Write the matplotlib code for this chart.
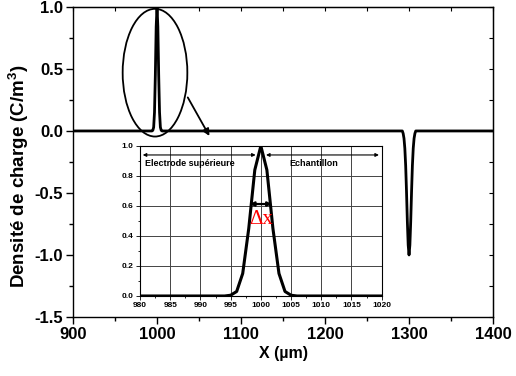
import numpy as np
import matplotlib
matplotlib.use('Agg')
import matplotlib.pyplot as plt
from matplotlib.patches import Ellipse
from matplotlib.ticker import MultipleLocator

plt.rcParams['font.family'] = ['Liberation Sans', 'DejaVu Sans']
plt.rcParams['mathtext.fontset'] = 'custom'
plt.rcParams['mathtext.bf'] = 'Liberation Sans:bold'
plt.rcParams['mathtext.rm'] = 'Liberation Sans:bold'

# charge density profile
x_peak = [994, 995, 996, 997, 998, 999, 1000, 1001, 1002, 1003, 1004, 1005, 1006]
y_peak = [0.0, 0.005, 0.03, 0.15, 0.45, 0.84, 1.0, 0.84, 0.45, 0.15, 0.03, 0.005, 0.0]
x_dip = [1292, 1293, 1294, 1295, 1296, 1297, 1298, 1299, 1300,
         1301, 1302, 1303, 1304, 1305, 1306, 1307, 1308]
y_dip = [0.0, -0.02, -0.06, -0.14, -0.28, -0.49, -0.73, -0.92, -1.0,
         -0.92, -0.73, -0.49, -0.28, -0.14, -0.06, -0.02, 0.0]
x_main = [900] + x_peak + x_dip + [1400]
y_main = [0.0] + y_peak + y_dip + [0.0]

# zoomed profile for the inset
x_zoom = [980, 990, 994] + x_peak[1:-1] + [1006, 1010, 1020]
y_zoom = [0.0, 0.0, 0.0] + y_peak[1:-1] + [0.0, 0.0, 0.0]

fig = plt.figure(figsize=(5.16, 3.76), dpi=100)
ax = fig.add_axes([0.1415, 0.157, 0.814, 0.8245])
ax.plot(x_main, y_main, color='black', lw=2.0, solid_joinstyle='round')
ax.set_xlim(900, 1400)
ax.set_ylim(-1.5, 1.0)
ax.xaxis.set_major_locator(MultipleLocator(100))
ax.xaxis.set_minor_locator(MultipleLocator(50))
ax.yaxis.set_major_locator(MultipleLocator(0.5))
ax.yaxis.set_minor_locator(MultipleLocator(0.25))
ax.yaxis.set_major_formatter(matplotlib.ticker.FormatStrFormatter('%.1f'))
ax.tick_params(which='both', direction='out', top=False, right=False,
               width=1.0, labelsize=12, pad=2)
ax.tick_params(which='major', length=5)
ax.tick_params(which='minor', length=3)
for lab in ax.get_xticklabels() + ax.get_yticklabels():
    lab.set_fontweight('bold')
# mirrored inward ticks on top/right
axt = ax.secondary_xaxis('top')
axt.xaxis.set_major_locator(MultipleLocator(50))
axt.tick_params(direction='in', length=3, labeltop=False)
axr = ax.secondary_yaxis('right')
axr.yaxis.set_major_locator(MultipleLocator(0.25))
axr.tick_params(direction='in', length=3, labelright=False)
for s in ax.spines.values():
    s.set_linewidth(1.0)

ax.set_xlabel('X (µm)', fontsize=11.5, fontweight='bold', labelpad=3)
ax.set_ylabel(r'Densité de charge (C/m$^{3}$)', fontsize=13.5,
              fontweight='bold')
ax.yaxis.set_label_coords(-0.1, 0.455)

# ellipse and arrow pointing to the inset
ax.add_patch(Ellipse((997.6, 0.47), 77, 1.03, fill=False, lw=1.3,
                     edgecolor='black', zorder=5))
ax.annotate('', xy=(1064, -0.06), xytext=(1035, 0.29),
            arrowprops=dict(arrowstyle='-|>', color='black', lw=1.3,
                            mutation_scale=10))

# inset
ins = fig.add_axes([0.2713, 0.2128, 0.4684, 0.399])
ins.plot(x_zoom, y_zoom, color='black', lw=2.2, zorder=4)
ins.set_xlim(980, 1020)
ins.set_ylim(0, 1.0)
ins.xaxis.set_major_locator(MultipleLocator(5))
ins.xaxis.set_minor_locator(MultipleLocator(2.5))
ins.yaxis.set_major_locator(MultipleLocator(0.2))
ins.yaxis.set_minor_locator(MultipleLocator(0.1))
ins.yaxis.set_major_formatter(matplotlib.ticker.FormatStrFormatter('%.1f'))
ins.grid(True, which='major', color='#444444', lw=0.7)
ins.tick_params(which='both', direction='out', labelsize=6, width=0.6, pad=1.5)
ins.tick_params(which='major', length=3)
ins.tick_params(which='minor', length=1.5)
for lab in ins.get_xticklabels() + ins.get_yticklabels():
    lab.set_fontweight('bold')
for s in ins.spines.values():
    s.set_linewidth(0.8)

arrow_kw = dict(arrowstyle='<|-|>', color='black', lw=0.8, mutation_scale=5)
ins.annotate('', xy=(980, 0.94), xytext=(999.6, 0.94), arrowprops=arrow_kw)
ins.annotate('', xy=(1000.4, 0.94), xytext=(1020, 0.94), arrowprops=arrow_kw)
ins.text(980.8, 0.885, 'Electrode supérieure', fontsize=6.5,
         fontweight='bold', va='center', ha='left')
ins.text(1004.8, 0.885, 'Echantillon', fontsize=6.5,
         fontweight='bold', va='center', ha='left')
ins.annotate('', xy=(997.7, 0.613), xytext=(1002.3, 0.613),
             arrowprops=dict(arrowstyle='<|-|>', color='black', lw=1.6,
                             mutation_scale=6), zorder=6)
ins.text(1000, 0.51, 'Δx', color='red', fontsize=15,
         family=['Liberation Serif', 'DejaVu Serif'], ha='center', va='center',
         zorder=6)

fig.savefig('out.png', dpi=100)
